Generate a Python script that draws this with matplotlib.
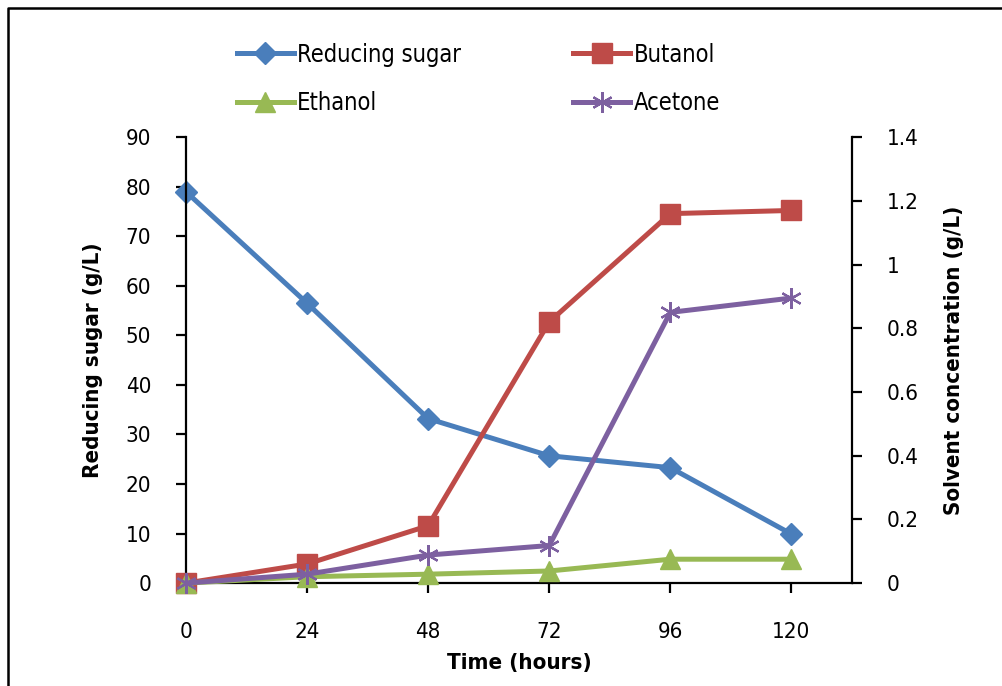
import matplotlib
matplotlib.use("Agg")
import matplotlib.pyplot as plt
from matplotlib.lines import Line2D

# data
time_h = [0, 24, 48, 72, 96, 120]
reducing_sugar = [79.0, 56.5, 33.2, 25.7, 23.3, 9.9]
butanol = [0.0, 0.06, 0.18, 0.82, 1.16, 1.17]
ethanol = [0.0, 0.02, 0.028, 0.038, 0.075, 0.075]
acetone = [0.0, 0.028, 0.088, 0.118, 0.85, 0.895]

left_ticks = [0, 10, 20, 30, 40, 50, 60, 70, 80, 90]
right_ticks = [0, 0.2, 0.4, 0.6, 0.8, 1.0, 1.2, 1.4]
right_labels = ["0", "0.2", "0.4", "0.6", "0.8", "1", "1.2", "1.4"]

plt.rcParams['font.family'] = ['DejaVu Sans']
plt.rcParams['font.stretch'] = 'condensed'

c_blue = '#4A7EBB'
c_red = '#BE4B48'
c_green = '#98B954'
c_purple = '#7D60A0'

fig = plt.figure(figsize=(10.03, 6.86), dpi=100)
ax = fig.add_axes([0.1854, 0.150, 0.664, 0.650])
ax2 = ax.twinx()

# frame around the chart area (only top and left edges are in the picture)
fig.lines.append(Line2D([0.008, 0.008, 1.0], [0.0, 0.989, 0.989], transform=fig.transFigure,
                        color='black', linewidth=1.8))

lw = 3.6
l1, = ax.plot(time_h, reducing_sugar, color=c_blue, lw=lw, marker='D', markersize=11,
              label='Reducing sugar', clip_on=False)
l2, = ax2.plot(time_h, butanol, color=c_red, lw=lw, marker='s', markersize=14,
               label='Butanol', clip_on=False)
l3, = ax2.plot(time_h, ethanol, color=c_green, lw=lw, marker='^', markersize=14,
               label='Ethanol', clip_on=False)
l4, = ax2.plot(time_h, acetone, color=c_purple, lw=lw, marker=(6, 2, 0), markersize=15,
               markeredgewidth=1.6, label='Acetone', clip_on=False)

ax.set_xlim(0, 132)
ax.set_ylim(0, 90)
ax2.set_ylim(0, 1.4)
ax.set_xticks(time_h)
ax.set_yticks(left_ticks)
ax2.set_yticks(right_ticks)
ax2.set_yticklabels(right_labels)

for a in (ax, ax2):
    a.spines['top'].set_visible(False)
    for s in a.spines.values():
        s.set_linewidth(1.6)
ax.spines['right'].set_visible(False)
ax2.spines['left'].set_visible(False)
ax2.spines['bottom'].set_visible(False)

ax.tick_params(axis='both', direction='out', length=7, width=1.6, labelsize=16)
ax.tick_params(axis='x', pad=21)
ax.tick_params(axis='y', pad=18)
ax2.tick_params(axis='y', direction='out', length=7, width=1.6, labelsize=16, pad=18)

ax.set_xlabel('Time (hours)', fontsize=16, fontweight='bold', labelpad=8)
ax.set_ylabel('Reducing sugar (g/L)', fontsize=16, fontweight='bold', labelpad=16)
ax2.set_ylabel('Solvent concentration (g/L)', fontsize=16, fontweight='bold', labelpad=18)

fig.legend([l1, l3, l2, l4], ['Reducing sugar', 'Ethanol', 'Butanol', 'Acetone'],
           ncol=2, loc='upper left', bbox_to_anchor=(0.215, 0.969), frameon=False,
           fontsize=17, handlelength=2.4, handletextpad=0.15, columnspacing=4.75,
           labelspacing=1.05)

fig.savefig('out.png', dpi=100)
